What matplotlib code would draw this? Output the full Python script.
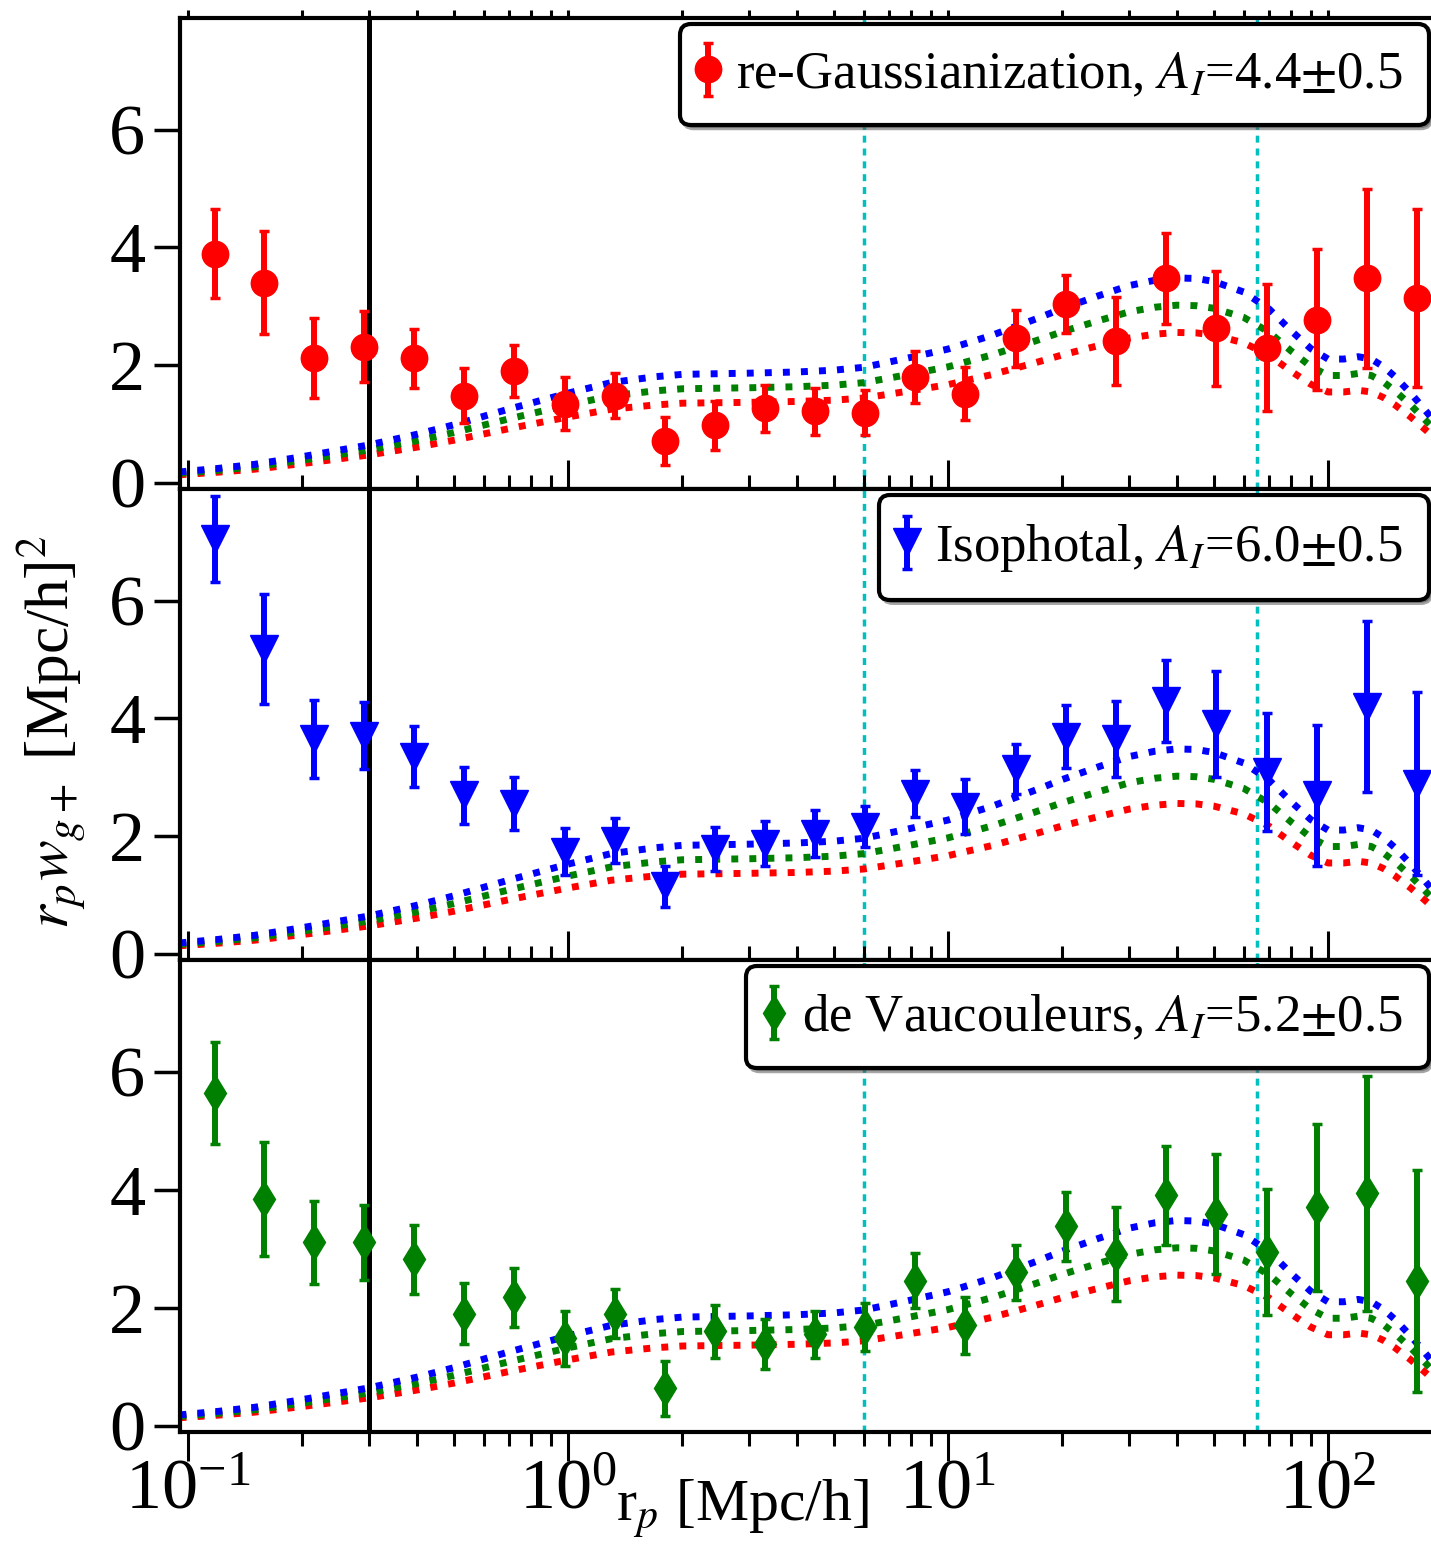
import numpy as np
import matplotlib
matplotlib.use('Agg')
import matplotlib.pyplot as plt

plt.rcParams['font.family'] = 'serif'
plt.rcParams['font.serif'] = ['Liberation Serif', 'DejaVu Serif']
plt.rcParams['mathtext.fontset'] = 'stix'

# measured radial bins (Mpc/h)
rp = [0.118, 0.159, 0.215, 0.291, 0.394, 0.534, 0.723, 0.98, 1.33, 1.80, 2.44,
      3.30, 4.47, 6.06, 8.21, 11.1, 15.1, 20.4, 27.7, 37.5, 50.8, 68.9, 93.3,
      126.5, 171.4]

# re-Gaussianization
y_reg = [3.89, 3.40, 2.11, 2.31, 2.11, 1.48, 1.90, 1.34, 1.48, 0.71, 0.97, 1.26,
         1.21, 1.19, 1.80, 1.51, 2.45, 3.04, 2.41, 3.47, 2.62, 2.29, 2.77, 3.47, 3.14]
e_reg = [0.76, 0.87, 0.68, 0.60, 0.50, 0.47, 0.44, 0.45, 0.39, 0.41, 0.42, 0.40,
         0.40, 0.38, 0.44, 0.45, 0.49, 0.49, 0.75, 0.78, 0.98, 1.08, 1.20, 1.53, 1.51]

# Isophotal
y_iso = [7.05, 5.18, 3.65, 3.70, 3.35, 2.69, 2.55, 1.73, 1.92, 1.14, 1.78, 1.87,
         2.04, 2.16, 2.72, 2.50, 3.14, 3.69, 3.65, 4.30, 3.91, 3.09, 2.69, 4.20, 2.89]
e_iso = [0.73, 0.93, 0.66, 0.57, 0.52, 0.48, 0.45, 0.40, 0.38, 0.35, 0.37, 0.38,
         0.40, 0.35, 0.40, 0.47, 0.42, 0.53, 0.65, 0.70, 0.90, 1.00, 1.20, 1.45, 1.55]

# de Vaucouleurs
y_dev = [5.64, 3.84, 3.11, 3.11, 2.82, 1.90, 2.18, 1.48, 1.90, 0.63, 1.60, 1.38,
         1.55, 1.67, 2.46, 1.70, 2.60, 3.38, 2.91, 3.91, 3.59, 2.94, 3.70, 3.94, 2.45]
e_dev = [0.87, 0.97, 0.70, 0.64, 0.59, 0.52, 0.50, 0.47, 0.42, 0.46, 0.45, 0.42,
         0.40, 0.41, 0.46, 0.48, 0.47, 0.58, 0.79, 0.84, 1.02, 1.07, 1.41, 1.99, 1.88]

# model curve for A_I = 6.0 (blue), others scale with A_I
r_model = [0.095, 0.12, 0.15, 0.2, 0.3, 0.4, 0.5, 0.7, 1.0, 1.3, 1.7, 2.0, 3.0,
           4.0, 5.0, 6.0, 7.0, 8.0, 10, 13, 17, 20, 25, 30, 35, 40, 45, 50, 60,
           70, 80, 90, 100, 110, 120, 130, 140, 150, 165, 178, 190]
w_model6 = [0.18, 0.24, 0.31, 0.44, 0.64, 0.82, 0.98, 1.25, 1.52, 1.70, 1.80,
            1.84, 1.86, 1.88, 1.91, 1.96, 2.05, 2.13, 2.27, 2.50, 2.78, 2.96,
            3.18, 3.35, 3.44, 3.48, 3.47, 3.42, 3.24, 2.95, 2.58, 2.28, 2.10,
            2.10, 2.14, 2.10, 1.97, 1.80, 1.52, 1.27, 1.05]
amps = [4.4, 5.2, 6.0]
amp_colors = ['r', 'g', 'b']

samples = [
    (y_reg, e_reg, 'o', 'r', 19, r're-Gaussianization, $A_I$=4.4$\pm$0.5'),
    (y_iso, e_iso, 'v', 'b', 20, r'Isophotal, $A_I$=6.0$\pm$0.5'),
    (y_dev, e_dev, 'd', 'g', 18, r'de Vaucouleurs, $A_I$=5.2$\pm$0.5'),
]

fig = plt.figure(figsize=(14.31, 15.48), dpi=100)
W, H = 1431.0, 1548.0
left = 180 / W
width = (1435 - 180) / W
tops = [18, 489, 960]
bots = [489, 960, 1432]

axes = []
for i in range(3):
    rect = [left, 1 - bots[i] / H, width, (bots[i] - tops[i]) / H]
    if i == 0:
        ax = fig.add_axes(rect)
    else:
        ax = fig.add_axes(rect, sharex=axes[0])
    axes.append(ax)

model = np.array(w_model6) / 6.0
for i, ax in enumerate(axes):
    ydat, yerr, mk, col, ms, lab = samples[i]
    ax.axvline(0.3, color='k', lw=3.6, zorder=1)
    for xv in [6.0, 65.0]:
        ax.axvline(xv, color='c', lw=2.5, ls=(0, (2.0, 1.7)), zorder=1)
    for a, c in zip(amps, amp_colors):
        ax.plot(r_model, model * a, color=c, lw=5, ls=(0, (1.0, 1.6)),
                dash_capstyle='butt', zorder=2)
    ax.errorbar(rp, ydat, yerr=yerr, fmt=mk, color=col, ms=ms, elinewidth=4.3,
                capsize=3.6, capthick=2.5, label=lab, zorder=3)

    ax.set_xscale('log')
    ax.set_xlim(0.0953, 191.2)
    ax.set_ylim(-0.11, 7.9)
    ax.set_yticks([0, 2, 4, 6])
    for s in ax.spines.values():
        s.set_linewidth(3)
    ax.tick_params(axis='y', which='major', direction='out', length=19, width=2.5,
                   labelsize=52, pad=6, right=False)
    if i == 0:
        ax.tick_params(axis='x', which='both', direction='out', top=True,
                       bottom=False, length=6, width=2.2)
    elif i == 1:
        ax.tick_params(axis='x', which='both', direction='out', top=True,
                       bottom=False, width=2.2)
        ax.tick_params(axis='x', which='major', length=21)
        ax.tick_params(axis='x', which='minor', length=10)
    else:
        ax.tick_params(axis='x', which='both', direction='out', top=True,
                       bottom=True, width=2.2, labelsize=52)
        ax.tick_params(axis='x', which='major', length=21, pad=-2)
        ax.tick_params(axis='x', which='minor', length=10)
    if i < 2:
        ax.tick_params(axis='x', which='both', labelbottom=False)

    leg = ax.legend(loc='upper right', fontsize=38, handlelength=0.05,
                    handletextpad=0.5, borderpad=0.5, borderaxespad=0.12,
                    fancybox=True, shadow=True, framealpha=1, edgecolor='k')
    leg.get_frame().set_linewidth(3)

axes[1].set_ylabel(r'$r_p w_{g+}$ [Mpc/h]$^2$', fontsize=44)
axes[1].yaxis.set_label_coords(-0.073, 0.484)
axes[2].set_xlabel(r'r$_p$ [Mpc/h]', fontsize=43)
axes[2].xaxis.set_label_coords(0.448, -0.097)

fig.savefig('out.png', dpi=100)
